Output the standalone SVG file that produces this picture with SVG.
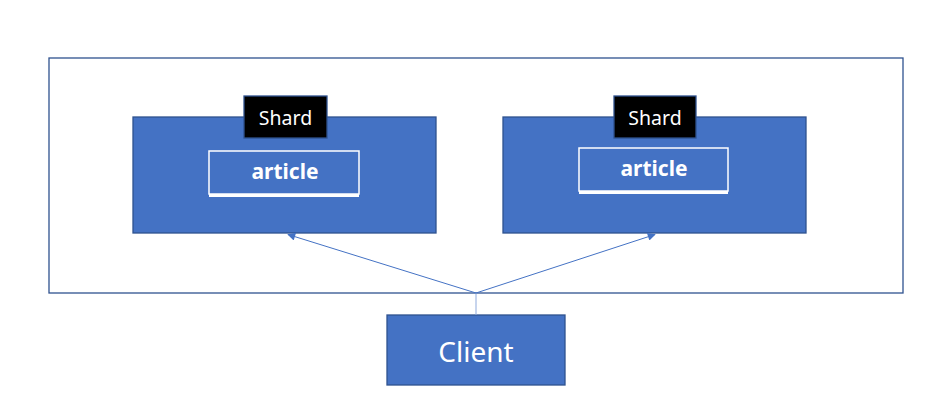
<svg xmlns="http://www.w3.org/2000/svg" width="950" height="420" viewBox="0 0 950 420">
<defs>
<style>
.outer{fill:#fff;stroke:#2f528f;stroke-width:1.3}
.box{fill:#4472c4;stroke:#2f528f;stroke-width:1.3}
.tag{fill:#000;stroke:#2f528f;stroke-width:1.3}
.art{fill:none;stroke:#fff;stroke-width:1.5}
.t{font-family:"Noto Sans","Open Sans","Liberation Sans",sans-serif;fill:#fff;text-anchor:middle}
.conn{stroke:#4472c4;stroke-width:1;fill:none}
</style>
<marker id="ah" viewBox="0 0 10 10" refX="9" refY="5" markerWidth="10" markerHeight="8" markerUnits="userSpaceOnUse" orient="auto">
<path d="M0,0 L10,5 L0,10 z" fill="#4472c4"/>
</marker>
</defs>
<rect width="950" height="420" fill="#fff"/>
<g id="cluster"><rect class="outer" x="49" y="58" width="854" height="235"/></g>
<g id="shard1">
<rect class="box" x="133" y="117" width="303" height="116"/>
<rect class="tag" x="244" y="96" width="83" height="42"/>
<text class="t" x="285.5" y="125" font-size="19.5">Shard</text>
<rect class="art" x="209" y="151" width="150" height="43"/>
<line x1="209" y1="195.5" x2="359" y2="195.5" stroke="#fff" stroke-width="3"/>
<text class="t" x="285" y="179" font-size="21" font-weight="bold">article</text>
</g>
<g id="shard2">
<rect class="box" x="503" y="117" width="303" height="116"/>
<rect class="tag" x="614" y="96" width="82" height="42"/>
<text class="t" x="655" y="125" font-size="19.5">Shard</text>
<rect class="art" x="579" y="148" width="149" height="43"/>
<line x1="579" y1="192.5" x2="728" y2="192.5" stroke="#fff" stroke-width="3"/>
<text class="t" x="654" y="176" font-size="21" font-weight="bold">article</text>
</g>
<g id="client">
<rect class="box" x="387" y="315" width="178" height="70"/>
<text class="t" x="476" y="362" font-size="28">Client</text>
</g>
<g id="connectors">
<line x1="476" y1="315" x2="476" y2="293" stroke="#8faadc" stroke-width="1"/>
<line class="conn" x1="476" y1="293" x2="288" y2="234.5" marker-end="url(#ah)"/>
<line class="conn" x1="476" y1="293" x2="655" y2="234.5" marker-end="url(#ah)"/>
</g>
</svg>
